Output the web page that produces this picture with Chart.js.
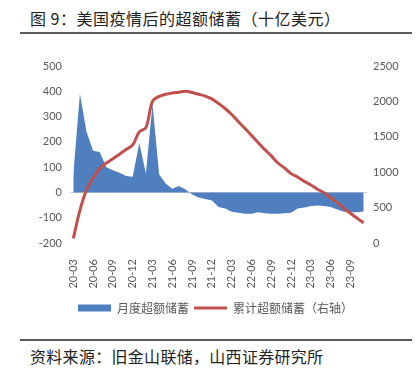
<!DOCTYPE html>
<html>
<head>
<meta charset="utf-8">
<script src="https://cdn.jsdelivr.net/npm/chart.js@4.4.0/dist/chart.umd.min.js"></script>
<style>
  html, body { margin: 0; padding: 0; background: #fff; width: 419px; height: 369px; overflow: hidden; }
  body { font-family: "Noto Sans CJK SC", sans-serif; position: relative; }
  #title { position: absolute; left: 30px; top: 7px; font-size: 16px; line-height: 22px; color: #222; white-space: nowrap; letter-spacing: 0.5px; }
  .rule { position: absolute; left: 20px; width: 392px; height: 2px; background: #5a5a5a; }
  #box { position: absolute; left: 0; top: 40px; width: 419px; height: 290px; }
  #source { position: absolute; left: 30px; top: 345px; font-size: 16px; line-height: 22px; color: #222; white-space: nowrap; letter-spacing: 0.3px; }
</style>
</head>
<body>
<div id="title">图 9：美国疫情后的超额储蓄（十亿美元）</div>
<div class="rule" style="top:32px"></div>
<div id="box"><canvas id="chart" width="419" height="290"></canvas></div>
<div class="rule" style="top:339px"></div>
<div id="source">资料来源：旧金山联储，山西证券研究所</div>
<script>
// months 2020-03 .. 2023-11
const months = [
  "20-03","20-04","20-05","20-06","20-07","20-08","20-09","20-10","20-11","20-12",
  "21-01","21-02","21-03","21-04","21-05","21-06","21-07","21-08","21-09","21-10","21-11","21-12",
  "22-01","22-02","22-03","22-04","22-05","22-06","22-07","22-08","22-09","22-10","22-11","22-12",
  "23-01","23-02","23-03","23-04","23-05","23-06","23-07","23-08","23-09","23-10","23-11"
];

// 月度超额储蓄 (left axis)
const monthly = [
  70, 390, 240, 165, 160, 100, 88, 78, 65, 62,
  195, 75, 350, 72, 35, 15, 25, 12, -8, -20, -26, -32,
  -58, -64, -76, -80, -84, -84, -78, -82, -84, -84, -82, -80,
  -64, -60, -54, -52, -54, -58, -68, -76, -78, -78, -75
];

// 累计超额储蓄 (right axis)
const cumulative = [
  65, 460, 750, 920, 1050, 1130, 1190, 1255, 1320, 1385,
  1570, 1630, 2000, 2070, 2100, 2120, 2130, 2145, 2125, 2100, 2075, 2035,
  1970, 1900, 1815, 1715, 1620, 1520, 1420, 1320, 1230, 1130, 1060, 980,
  930, 870, 820, 760, 710, 640, 570, 490, 420, 350, 285
];

const seriesNames = ["月度超额储蓄", "累计超额储蓄（右轴）"];
const leftTicks = { min: -200, max: 500, step: 100 };
const rightTicks = { min: 0, max: 2500, step: 500 };

Chart.defaults.font.family = "Lato, 'Noto Sans CJK SC', sans-serif";
Chart.defaults.color = "#595959";

new Chart(document.getElementById("chart"), {
  type: "line",
  data: {
    labels: months,
    datasets: [
      {
        label: seriesNames[0],
        data: monthly,
        yAxisID: "y",
        fill: "origin",
        backgroundColor: "#4f7fbf",
        borderWidth: 0,
        pointRadius: 0,
        pointStyle: "rect",
        tension: 0,
        order: 1
      },
      {
        label: seriesNames[1],
        data: cumulative,
        yAxisID: "y2",
        fill: false,
        borderColor: "#c0504d",
        backgroundColor: "#c0504d",
        borderWidth: 3,
        pointRadius: 0,
        pointStyle: "line",
        tension: 0.35,
        order: 0
      }
    ]
  },
  options: {
    responsive: false,
    animation: false,
    layout: { padding: { left: 12, right: 0, top: 26, bottom: 6 } },
    plugins: {
      tooltip: { enabled: false },
      legend: {
        position: "bottom",
        labels: {
          usePointStyle: true,
          pointStyleWidth: 33,
          boxHeight: 7,
          padding: 5,
          color: "#595959",
          font: { family: "'Noto Sans CJK SC', sans-serif", size: 12 },
          sort: (a, b) => a.datasetIndex - b.datasetIndex
        }
      }
    },
    scales: {
      x: {
        offset: true,
        grid: { display: false },
        border: { display: false },
        afterFit: s => { s.height = 54; },
        ticks: {
          autoSkip: false,
          maxRotation: 90,
          minRotation: 90,
          padding: 8,
          font: { size: 11 },
          callback: function (v, i) { return i % 3 === 0 ? months[i] : null; }
        }
      },
      y: {
        position: "left",
        min: leftTicks.min,
        max: leftTicks.max,
        afterFit: s => { s.width = 58; },
        border: { display: false },
        grid: {
          drawTicks: false,
          color: c => (c.tick && c.tick.value === 0 ? "#d9d9d9" : "rgba(0,0,0,0)"),
          lineWidth: 1
        },
        ticks: { stepSize: leftTicks.step, padding: 8, font: { size: 11 }, callback: v => String(v) }
      },
      y2: {
        position: "right",
        min: rightTicks.min,
        max: rightTicks.max,
        afterFit: s => { s.width = 52; },
        border: { display: false },
        grid: { display: false, drawTicks: false },
        ticks: { stepSize: rightTicks.step, padding: 6, font: { size: 11 }, callback: v => String(v) }
      }
    }
  }
});
</script>
</body>
</html>
